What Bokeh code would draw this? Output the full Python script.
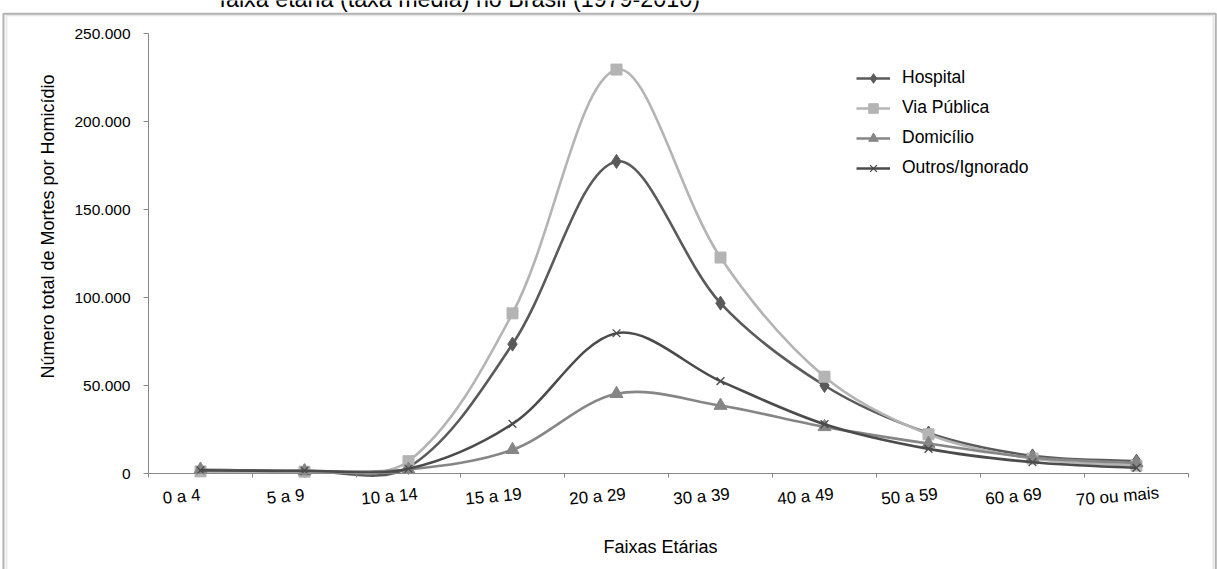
import math
import numpy as np
from bokeh.plotting import figure
from bokeh.models import (Range1d, FixedTicker, ColumnDataSource, LabelSet, Label,
                          Legend, LegendItem, BoxAnnotation)
from bokeh.core.properties import value
from bokeh.embed import file_html
from bokeh.resources import INLINE

# ---------------- data ----------------
categories = ["0 a 4", "5 a 9", "10 a 14", "15 a 19", "20 a 29",
              "30 a 39", "40 a 49", "50 a 59", "60 a 69", "70 ou mais"]
hospital = [2000, 1500, 3500, 73500, 177300, 96800, 50000, 23000, 10000, 7000]
via_publica = [1200, 1000, 7000, 91000, 229500, 122700, 55000, 22300, 8500, 4500]
domicilio = [2300, 1300, 2300, 13500, 45300, 38600, 26500, 17000, 9000, 6000]
outros = [1800, 1600, 2700, 28200, 79700, 52500, 28000, 14000, 6400, 3200]
series_names = ["Hospital", "Via Pública", "Domicílio", "Outros/Ignorado"]
y_ticks = [0, 50000, 100000, 150000, 200000, 250000]
y_tick_labels = ["0", "50.000", "100.000", "150.000", "200.000", "250.000"]
title_text = "faixa etária (taxa média) no Brasil (1979-2010)"
x_title = "Faixas Etárias"
y_title = "Número total de Mortes por Homicídio"

FONT = "Liberation Sans"
AXIS_GRAY = "#888888"

n = len(categories)
Y_MAX = y_ticks[-1]
xs = np.arange(n) + 0.5  # category centres (tick marks sit on category boundaries)

# ---------------- layout (canvas pixels) ----------------
W, H = 1217, 569
AX_LEFT, AX_RIGHT = 148, 1188      # x axis extent
AX_TOP, AX_BOTTOM = 33, 473        # y axis extent
px_per_cat = (AX_RIGHT - AX_LEFT) / n
px_per_unit = (AX_BOTTOM - AX_TOP) / Y_MAX
x_start = -AX_LEFT / px_per_cat
x_end = (W - AX_LEFT) / px_per_cat
y_start = -(H - AX_BOTTOM) / px_per_unit
y_end = AX_BOTTOM / px_per_unit


def smooth_segments(x, y):
    """Bezier control points for an Excel-like smoothed line.

    Tangents follow the Catmull-Rom rule, weighted by the on-screen length
    of the neighbouring segments (computed in pixel space)."""
    X = np.asarray(x, float) * px_per_cat
    Y = np.asarray(y, float) * px_per_unit
    P = np.column_stack([X, Y])
    m = len(P)
    f = 1.0 / 6.0
    out = {k: [] for k in ["x0", "y0", "x1", "y1", "cx0", "cy0", "cx1", "cy1"]}
    for i in range(m - 1):
        pm, p0, p1, p2 = P[max(i - 1, 0)], P[i], P[i + 1], P[min(i + 2, m - 1)]
        d0 = np.hypot(*(p0 - pm))
        d1 = np.hypot(*(p1 - p0))
        d2 = np.hypot(*(p2 - p1))
        w0 = 2 * d1 / (d0 + d1) if d0 > 0 else 1.0
        w1 = 2 * d1 / (d1 + d2) if d2 > 0 else 1.0
        c0 = p0 + (p1 - pm) * f * w0
        c1 = p1 - (p2 - p0) * f * w1
        for key, pt in (("0", p0), ("1", p1)):
            out["x" + key].append(pt[0] / px_per_cat)
            out["y" + key].append(pt[1] / px_per_unit)
        out["cx0"].append(c0[0] / px_per_cat); out["cy0"].append(c0[1] / px_per_unit)
        out["cx1"].append(c1[0] / px_per_cat); out["cy1"].append(c1[1] / px_per_unit)
    return out


p = figure(width=W, height=H, output_backend="svg", toolbar_location=None,
           x_range=Range1d(x_start, x_end), y_range=Range1d(y_start, y_end),
           min_border=0, min_border_left=0, min_border_right=0,
           min_border_top=0, min_border_bottom=0)
p.outline_line_color = None
p.xgrid.visible = False
p.ygrid.visible = False
p.background_fill_color = "white"
p.border_fill_color = "white"

# y axis (fixed at x = 0)
p.yaxis.fixed_location = 0
p.yaxis.bounds = (0, Y_MAX)
p.yaxis.ticker = FixedTicker(ticks=y_ticks, minor_ticks=[])
p.yaxis.major_label_overrides = dict(zip(y_ticks, y_tick_labels))
p.yaxis.axis_line_color = AXIS_GRAY
p.yaxis.major_tick_line_color = AXIS_GRAY
p.yaxis.major_tick_out = 5
p.yaxis.major_tick_in = 0
p.yaxis.minor_tick_line_color = None
p.yaxis.major_label_standoff = 13
p.yaxis.major_label_text_font = FONT
p.yaxis.major_label_text_font_size = "15.5px"
p.yaxis.major_label_text_color = "black"

# x axis (fixed at y = 0): tick marks on category boundaries
p.xaxis.fixed_location = 0
p.xaxis.bounds = (0, n)
p.xaxis.ticker = FixedTicker(ticks=[], minor_ticks=list(range(n + 1)))
p.xaxis.axis_line_color = AXIS_GRAY
p.xaxis.major_tick_line_color = None
p.xaxis.major_tick_out = 0
p.xaxis.major_tick_in = 0
p.xaxis.minor_tick_line_color = AXIS_GRAY
p.xaxis.minor_tick_out = 4
p.xaxis.minor_tick_in = 0

# category labels, slightly tilted as in the original
cat_src = ColumnDataSource(dict(x=xs, y=[0] * n, text=categories))
p.add_layout(LabelSet(x="x", y="y", text="text", source=cat_src,
                      x_offset=-19, y_offset=-23, angle=0.09,
                      text_align="center", text_baseline="middle",
                      text_font=value(FONT), text_font_size=value("17px"),
                      text_color="black"))

# axis titles
p.add_layout(Label(x=47, y=H - 226, x_units="screen", y_units="screen",
                   text=y_title, angle=math.pi / 2,
                   text_align="center", text_baseline="middle",
                   text_font=FONT, text_font_size="18px", text_color="black"))
p.add_layout(Label(x=660, y=H - 546, x_units="screen", y_units="screen",
                   text=x_title, text_align="center", text_baseline="middle",
                   text_font=FONT, text_font_size="18px", text_color="black"))

# series
styles = [
    dict(values=hospital, color="#5a5a5a", marker="diamond", size=14),
    dict(values=via_publica, color="#b4b4b4", marker="square", size=11),
    dict(values=domicilio, color="#868686", marker="triangle", size=13),
    dict(values=outros, color="#4b4b4b", marker="x", size=11),
]
items = []
for name, st in zip(series_names, styles):
    src = ColumnDataSource(smooth_segments(xs, st["values"]))
    r_line = p.bezier(x0="x0", y0="y0", x1="x1", y1="y1", cx0="cx0", cy0="cy0",
                      cx1="cx1", cy1="cy1", source=src,
                      line_color=st["color"], line_width=2.6)
    if st["marker"] == "x":
        r_mark = p.scatter(xs, st["values"], marker="x", size=st["size"],
                           line_color=st["color"], line_width=1.3)
    else:
        r_mark = p.scatter(xs, st["values"], marker=st["marker"], size=st["size"],
                           fill_color=st["color"], line_color=st["color"], line_width=1)
    items.append(LegendItem(label=name, renderers=[r_line, r_mark]))

legend = Legend(items=items, location=(856, H - 179.5), orientation="vertical",
                glyph_width=34, glyph_height=24, label_height=24, spacing=6,
                padding=0, margin=0, label_standoff=12,
                label_text_font=FONT, label_text_font_size="17.5px",
                label_text_color="black",
                border_line_color=None, background_fill_alpha=0)
p.add_layout(legend)

# frame of the original figure (black outer line, grey inner line)
p.add_layout(BoxAnnotation(left=3, right=1215.3, top=H - 13.2, bottom=-20,
                           left_units="screen", right_units="screen",
                           top_units="screen", bottom_units="screen",
                           fill_color=None, line_color="black", line_width=2))
p.add_layout(BoxAnnotation(left=6, right=1212.7, top=H - 15, bottom=-20,
                           left_units="screen", right_units="screen",
                           top_units="screen", bottom_units="screen",
                           fill_color=None, line_color="#a8a8a8", line_width=1.5))

# cut-off title line above the frame (only its lower part is visible)
p.add_layout(Label(x=219, y=H + 2, x_units="screen", y_units="screen",
                   text=title_text, text_align="left", text_baseline="alphabetic",
                   text_font=FONT, text_font_size="23.3px", text_color="black"))

open("out.html", "w").write(file_html(p, INLINE))
